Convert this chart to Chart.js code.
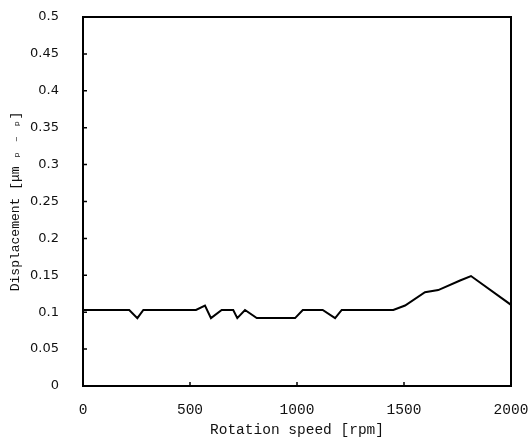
<!DOCTYPE html>
<html>
<head>
<meta charset="utf-8">
<script src="https://cdn.jsdelivr.net/npm/chart.js@4/dist/chart.umd.min.js"></script>
<style>
  html, body { margin: 0; padding: 0; background: #fff; }
  #wrap { width: 531px; height: 443px; }
</style>
</head>
<body>
<div id="wrap"><canvas id="c" width="531" height="443"></canvas></div>
<script>
// values
const rpm = [0, 216, 254, 282, 528, 570, 598, 648, 702, 721, 757, 812, 991, 1027,
  1120, 1178, 1209, 1450, 1505, 1598, 1660, 1762, 1813, 2000];
const displacement = [0.103, 0.103, 0.092, 0.103, 0.103, 0.109, 0.092, 0.103, 0.103, 0.092,
  0.103, 0.092, 0.092, 0.103, 0.103, 0.092, 0.103, 0.103, 0.109, 0.127, 0.130, 0.143, 0.149, 0.110];
const xTicks = [0, 500, 1000, 1500, 2000];
const yTicks = [0, 0.05, 0.1, 0.15, 0.2, 0.25, 0.3, 0.35, 0.4, 0.45, 0.5];

const MONO = '"Liberation Mono", "Courier New", monospace';
const SANS = '"DejaVu Sans", Verdana, sans-serif';

// frame box + inward tick marks, placed with the chart's own scales
const framePlugin = {
  id: 'frame',
  afterDatasetsDraw(chart) {
    const { ctx, chartArea: a, scales } = chart;
    ctx.save();
    ctx.strokeStyle = '#000';
    ctx.lineWidth = 2;
    ctx.strokeRect(a.left, a.top, a.right - a.left, a.bottom - a.top);
    ctx.lineWidth = 1.5;
    ctx.beginPath();
    for (const v of xTicks) {
      const px = scales.x.getPixelForValue(v);
      ctx.moveTo(px, a.bottom);
      ctx.lineTo(px, a.bottom - 4);
    }
    for (const v of yTicks) {
      const py = scales.y.getPixelForValue(v);
      ctx.moveTo(a.left, py);
      ctx.lineTo(a.left + 4, py);
    }
    ctx.stroke();
    ctx.restore();
  },
};

new Chart(document.getElementById('c'), {
  type: 'line',
  data: {
    datasets: [{
      data: rpm.map((r, i) => ({ x: r, y: displacement[i] })),
      borderColor: '#000',
      borderWidth: 2,
      pointRadius: 0,
      tension: 0,
      fill: false,
    }],
  },
  options: {
    responsive: false,
    animation: false,
    layout: { padding: { top: 17, right: 20, left: 0, bottom: 0 } },
    plugins: { legend: { display: false }, tooltip: { enabled: false } },
    scales: {
      x: {
        type: 'linear',
        min: 0,
        max: 2000,
        afterBuildTicks: (s) => { s.ticks = xTicks.map((v) => ({ value: v })); },
        afterFit: (s) => { s.height = 57; s.paddingLeft = 0; s.paddingRight = 0; },
        grid: { display: false },
        border: { display: false },
        ticks: {
          color: '#111', font: { family: MONO, size: 14.5 }, padding: 7, maxRotation: 0,
          callback: (v) => String(v),
        },
        title: { display: true, text: 'Rotation speed [rpm]', color: '#111',
          font: { family: MONO, size: 14.5 }, padding: { top: 9 } },
      },
      y: {
        min: 0,
        max: 0.5,
        afterBuildTicks: (s) => { s.ticks = yTicks.map((v) => ({ value: v })); },
        afterFit: (s) => { s.width = 83; s.paddingTop = 0; s.paddingBottom = 0; },
        grid: { display: false },
        border: { display: false },
        ticks: {
          color: '#111', font: { family: SANS, size: 13 }, padding: 16,
          callback: (v) => String(Number(v.toFixed(2))),
        },
        title: { display: true, text: 'Displacement [μm ₚ ₋ ₚ]', color: '#111',
          font: { family: MONO, size: 13 }, padding: { top: 8, bottom: 0 } },
      },
    },
  },
  plugins: [framePlugin],
});
</script>
</body>
</html>
